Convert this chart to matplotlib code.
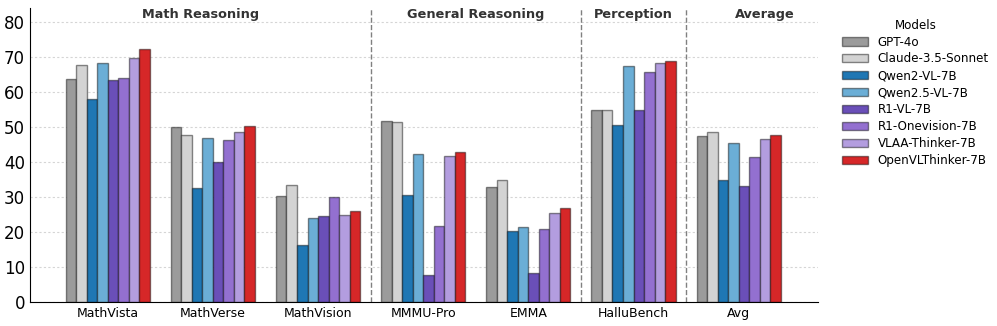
import matplotlib.pyplot as plt
import numpy as np

benchmarks = ["MathVista", "MathVerse", "MathVision", "MMMU-Pro", "EMMA", "HalluBench", "Avg"]
models = ["GPT-4o", "Claude-3.5-Sonnet", "Qwen2-VL-7B", "Qwen2.5-VL-7B",
          "R1-VL-7B", "R1-Onevision-7B", "VLAA-Thinker-7B", "OpenVLThinker-7B"]

gpt4o = [63.8, 50.2, 30.4, 51.9, 32.8, 55.0, 47.4]
claude = [67.7, 47.8, 33.5, 51.5, 35.0, 55.0, 48.5]
qwen2 = [58.2, 32.5, 16.3, 30.5, 20.2, 50.5, 34.8]
qwen25 = [68.4, 46.8, 23.9, 42.3, 21.4, 67.5, 45.6]
r1vl = [63.5, 40.0, 24.7, 7.7, 8.2, 54.8, 33.2]
r1one = [64.1, 46.4, 29.9, 21.6, 20.8, 65.7, 41.4]
vlaa = [69.9, 48.5, 24.8, 41.9, 25.5, 68.5, 46.6]
openvl = [72.3, 50.3, 25.9, 42.9, 26.8, 69.0, 47.9]

series = [gpt4o, claude, qwen2, qwen25, r1vl, r1one, vlaa, openvl]
colors = ["#9b9b9b", "#d3d3d3", "#1f77b4", "#6baed6",
          "#6a4fb8", "#9370d0", "#b39ddf", "#d62728"]

groups = [("Math Reasoning", 0.88), ("General Reasoning", 3.5),
          ("Perception", 5.0), ("Average", 6.25)]
separators = [2.5, 4.5, 5.5]

fig = plt.figure(figsize=(9.97, 3.26), dpi=100)
ax = fig.add_axes([0.030, 0.074, 0.790, 0.90])

x = np.arange(len(benchmarks))
w = 0.1
for i, (vals, c, m) in enumerate(zip(series, colors, models)):
    ax.bar(x + (i - 3.5) * w, vals, w, color=c, label=m,
           edgecolor=(0, 0, 0, 0.45), linewidth=1.0)

for s in separators:
    ax.axvline(s, color="gray", linestyle="--", linewidth=1)

for name, gx in groups:
    ax.text(gx, 82.3, name, ha="center", va="center", fontsize=9.3,
            fontweight="bold", color="#333333")

ax.set_xlim(-0.74, 6.75)
ax.set_ylim(0, 84)
ax.set_yticks(range(0, 81, 10))
ax.set_xticks(x)
ax.set_xticklabels(benchmarks, fontsize=9)
ax.tick_params(axis="y", labelsize=12, length=0)
ax.tick_params(axis="x", length=0)
ax.yaxis.grid(True, linestyle=(0, (2, 2)), color="#d5d5d5", linewidth=0.8)
ax.set_axisbelow(True)
ax.spines["top"].set_visible(False)
ax.spines["right"].set_visible(False)

ax.legend(title="Models", loc="upper left", bbox_to_anchor=(1.022, 0.99),
          borderaxespad=0.2, frameon=False, fontsize=8.6, title_fontsize=8.6,
          handlelength=2.2, labelspacing=0.33)

fig.savefig("out.png", dpi=100)
